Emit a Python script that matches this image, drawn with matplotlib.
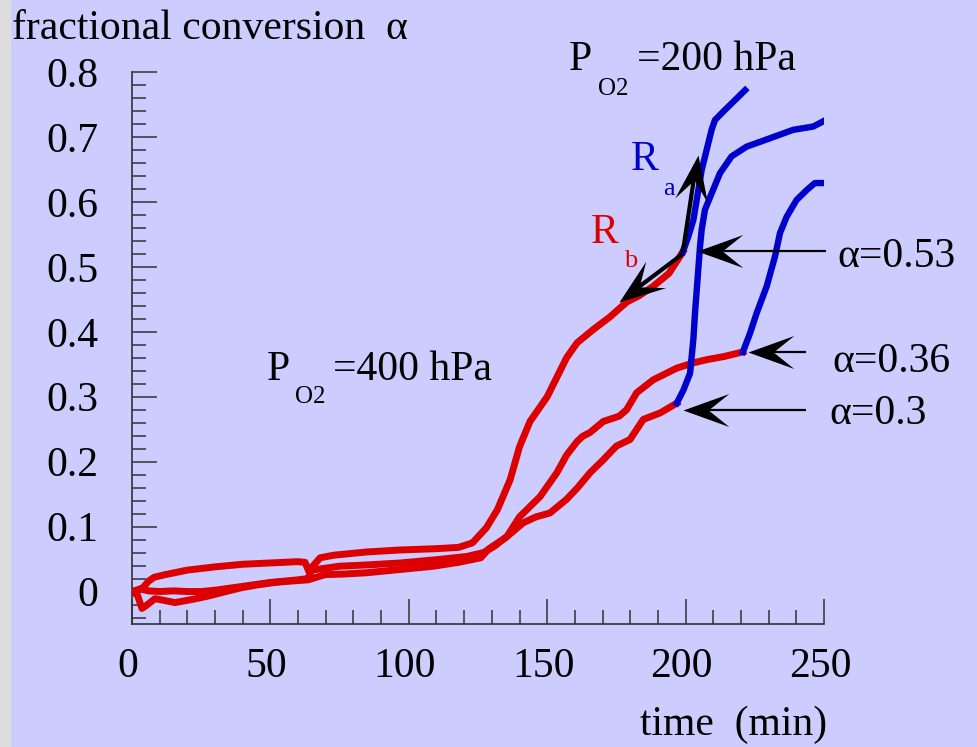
import numpy as np
import matplotlib
matplotlib.use('Agg')
import matplotlib.pyplot as plt
from matplotlib.markers import MarkerStyle
from matplotlib.path import Path
from matplotlib.transforms import Affine2D, ScaledTranslation
from matplotlib.ticker import MultipleLocator

plt.rcParams['font.family'] = ['Liberation Serif', 'DejaVu Serif']

# runs at P_O2 = 400 hPa (red)
t_a_400 = [0, 2, 4, 6, 8, 12, 20, 30, 40, 50, 60, 62.5, 64, 65.5, 68, 73, 85, 97, 110, 118,
           123, 128, 132, 136.6, 140, 143.8, 147.4, 150, 153.5, 157, 160.8, 166.5, 172.7,
           178.8, 183, 188, 194, 199]
a_a_400 = [0, 0.002, 0.006, 0.016, 0.022, 0.026, 0.033, 0.038, 0.042, 0.044, 0.046, 0.045,
           0.03, 0.04, 0.052, 0.056, 0.061, 0.064, 0.066, 0.068, 0.075, 0.098, 0.126, 0.172,
           0.223, 0.262, 0.284, 0.3, 0.33, 0.36, 0.383, 0.403, 0.423, 0.446, 0.455, 0.469,
           0.49, 0.523]

t_b_400 = [0, 3, 6, 10, 15, 20, 25, 30, 40, 50, 60, 63.5, 65, 70, 75, 85, 97, 110, 121, 127,
           131, 135.5, 140, 147.4, 153.5, 157, 160.8, 162.8, 165.5, 170.3, 176, 178.7, 182.3,
           188.3, 196.8, 202.7, 207.6, 214, 220.7]
a_b_400 = [0, 0.004, 0.001, 0.0, 0.001, 0.0, 0.0, 0.002, 0.008, 0.014, 0.018, 0.02, 0.033,
           0.036, 0.039, 0.041, 0.044, 0.049, 0.054, 0.06, 0.07, 0.085, 0.115, 0.146, 0.183,
           0.21, 0.231, 0.239, 0.245, 0.262, 0.27, 0.28, 0.306, 0.326, 0.344, 0.352, 0.357,
           0.362, 0.369]

t_c_400 = [0, 2, 3.6, 5, 8.3, 12, 15.5, 22, 27.5, 33, 39.7, 45, 51.7, 57, 63.6, 69.7, 77, 85,
           97, 109, 118, 126, 129, 135, 141.4, 146, 151, 157, 161, 165.5, 170.3, 175, 179.9,
           184.7, 190.8, 196.8]
a_c_400 = [0, -0.006, -0.026, -0.022, -0.011, -0.014, -0.017, -0.012, -0.007, -0.001, 0.006,
           0.01, 0.014, 0.016, 0.018, 0.026, 0.027, 0.029, 0.034, 0.039, 0.045, 0.052, 0.066,
           0.083, 0.106, 0.115, 0.121, 0.142, 0.16, 0.183, 0.203, 0.224, 0.234, 0.265, 0.275,
           0.29]

# same runs after switching to P_O2 = 200 hPa (blue)
t_a_200 = [199, 201, 202.8, 204.6, 205.8, 207.6, 209.4, 210.6, 213.6, 217.2, 221.5]
a_a_200 = [0.523, 0.547, 0.572, 0.618, 0.649, 0.68, 0.711, 0.726, 0.739, 0.754, 0.772]

t_b_200 = [220.7, 223.3, 225.7, 229.3, 232.3, 234.1, 236.5, 240.1, 243.7, 246.7, 249.7]
a_b_200 = [0.369, 0.398, 0.429, 0.47, 0.516, 0.552, 0.577, 0.603, 0.618, 0.629, 0.629]

t_c_200 = [196.8, 199.2, 201.6, 202.8, 203.4, 204.3, 205.2, 205.8, 207, 209.4, 212.4, 216.6,
           222, 230.5, 238.9, 246.1, 249.7]
a_c_200 = [0.29, 0.31, 0.336, 0.388, 0.429, 0.48, 0.531, 0.557, 0.588, 0.613, 0.644, 0.67,
           0.685, 0.698, 0.711, 0.716, 0.724]

bg = '#ccccff'
red = '#dd0000'
blue = '#0000cc'

fig = plt.figure(figsize=(9.78, 7.47), dpi=100, facecolor=bg)
fig.patches.append(plt.Rectangle((0, 0), 10 / 978, 1, transform=fig.transFigure,
                                 color='#dddddd', zorder=0))
ax = fig.add_axes([132 / 978, 123 / 747, 692 / 978, 552 / 747])
ax.set_facecolor(bg)

for t, a in [(t_a_400, a_a_400), (t_b_400, a_b_400), (t_c_400, a_c_400)]:
    ax.plot(t, a, color=red, lw=5, solid_joinstyle='round', zorder=3)
for t, a in [(t_a_200, a_a_200), (t_b_200, a_b_200), (t_c_200, a_c_200)]:
    ax.plot(t, a, color=blue, lw=4.6, solid_joinstyle='round', zorder=3)

ax.set_xlim(0, 250)
ax.set_ylim(-0.05, 0.8)
for s in ['top', 'right']:
    ax.spines[s].set_visible(False)
for s in ['left', 'bottom']:
    ax.spines[s].set_color('#333333')
    ax.spines[s].set_linewidth(1.2)

ax.xaxis.set_major_locator(MultipleLocator(50))
ax.xaxis.set_minor_locator(MultipleLocator(10))
ax.yaxis.set_minor_locator(MultipleLocator(0.02))
ax.set_yticks(np.arange(0, 0.81, 0.1))
ax.set_yticklabels(['0', '0.1', '0.2', '0.3', '0.4', '0.5', '0.6', '0.7', '0.8'])
ax.tick_params(which='both', direction='in', colors='#333333', width=1.1,
               labelcolor='black', labelsize=30)
ax.tick_params(which='major', length=18)
ax.tick_params(which='minor', length=10)
ax.tick_params(axis='y', pad=24)
ax.tick_params(axis='x', pad=17)
shift = ScaledTranslation(-4 / 100, 0, fig.dpi_scale_trans)
for lab in ax.get_xticklabels():
    lab.set_transform(lab.get_transform() + shift)

fig.text(12 / 978, 1 - 39 / 747, 'fractional conversion  \u03b1', fontsize=30, va='baseline')
fig.text(640 / 978, 1 - 735 / 747, 'time  (min)', fontsize=30, va='baseline')

# pressure labels with dropped subscripts
ax.text(157.9, 0.803, 'P', fontsize=30, va='baseline')
ax.text(168.4, 0.765, 'O2', fontsize=18, va='baseline')
ax.text(182.4, 0.803, '=200 hPa', fontsize=30, va='baseline')
ax.text(48.8, 0.326, 'P', fontsize=30, va='baseline')
ax.text(58.9, 0.291, 'O2', fontsize=18, va='baseline')
ax.text(72.6, 0.326, '=400 hPa', fontsize=30, va='baseline')

ax.text(180.3, 0.649, 'R', fontsize=30, color=blue, va='baseline')
ax.text(191.8, 0.611, 'a', fontsize=19, color=blue, va='baseline')
ax.text(165.8, 0.537, 'R', fontsize=30, color=red, va='baseline')
ax.text(177.6, 0.500, 'b', fontsize=19, color=red, va='baseline')

ax.text(254.7, 0.500, '\u03b1=0.53', fontsize=30, va='baseline', clip_on=False)
ax.text(253.2, 0.338, '\u03b1=0.36', fontsize=30, va='baseline', clip_on=False)
ax.text(251.8, 0.258, '\u03b1=0.3', fontsize=30, va='baseline', clip_on=False)

# arrows with swept-back heads
head = Path([(0, 0), (-1, 0.36), (-0.55, 0), (-1, -0.36), (0, 0)],
            [Path.MOVETO, Path.LINETO, Path.LINETO, Path.LINETO, Path.CLOSEPOLY])
head_ms = 66


def arrow(tail, tip, lw):
    p0, p1 = ax.transData.transform([tail, tip])
    d = p1 - p0
    ang = np.degrees(np.arctan2(d[1], d[0]))
    u = d / np.hypot(*d)
    back = 0.5 * head_ms * 0.5 * fig.dpi / 72
    end = ax.transData.inverted().transform(p1 - u * back)
    ax.plot([tail[0], end[0]], [tail[1], end[1]], color='black', lw=lw,
            solid_capstyle='butt', zorder=5, clip_on=False)
    m = MarkerStyle(head, transform=Affine2D().rotate_deg(ang))
    ax.plot(tip[0], tip[1], marker=m, ms=head_ms, color='black', mew=0,
            zorder=6, clip_on=False)


arrow((199, 0.523), (204.3, 0.672), 3)
arrow((199, 0.52), (175.9, 0.446), 3)
arrow((250.7, 0.525), (204.1, 0.525), 1.6)
arrow((243.6, 0.369), (222.5, 0.369), 1.6)
arrow((243.5, 0.28), (199.1, 0.28), 1.6)

fig.savefig('out.png', dpi=100, facecolor=bg)
